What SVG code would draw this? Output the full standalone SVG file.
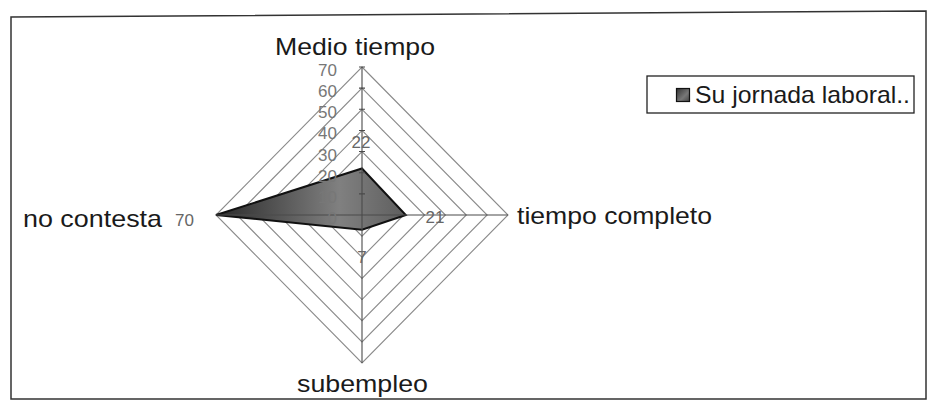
<svg xmlns="http://www.w3.org/2000/svg" width="928" height="400" viewBox="0 0 928 400">
<defs>
<linearGradient id="fillg" x1="0" y1="0" x2="1" y2="0">
<stop offset="0" stop-color="#2a2a2a"/>
<stop offset="0.65" stop-color="#808080"/>
<stop offset="1" stop-color="#5e5e5e"/>
</linearGradient>
<linearGradient id="legg" x1="0" y1="0" x2="1" y2="1">
<stop offset="0" stop-color="#333"/>
<stop offset="0.6" stop-color="#777"/>
<stop offset="1" stop-color="#444"/>
</linearGradient>
<style>
.grid{fill:none;stroke:#8a8a8a;stroke-width:1.1}
.axis{stroke:#4a4a4a;stroke-width:1.1}
.cat{font-family:"Liberation Sans",Arial,sans-serif;font-size:24px;fill:#1a1a1a}
.num{font-family:"Liberation Sans",Arial,sans-serif;font-size:17px;fill:#666}
.scale{font-family:"Liberation Sans",Arial,sans-serif;font-size:17px;fill:#777;text-anchor:end}
</style>
</defs>
<rect width="928" height="400" fill="#fff"/>
<path d="M11,399 L11,17 L926,11 L926,399 Z" fill="none" stroke="#333" stroke-width="1.5"/>
<g id="grid">
<polygon class="grid" points="362,193.86 382.86,215 362,236.14 341.14,215"/>
<polygon class="grid" points="362,172.71 403.71,215 362,257.29 320.29,215"/>
<polygon class="grid" points="362,151.57 424.57,215 362,278.43 299.43,215"/>
<polygon class="grid" points="362,130.43 445.43,215 362,299.57 278.57,215"/>
<polygon class="grid" points="362,109.29 466.29,215 362,320.71 257.71,215"/>
<polygon class="grid" points="362,88.14 487.14,215 362,341.86 236.86,215"/>
<polygon class="grid" points="362,67 508,215 362,363 216,215"/>
</g>
<g id="series">
<polygon points="362,168.5 405.8,215 362,229.8 216,215" fill="url(#fillg)" stroke="#111" stroke-width="2" stroke-linejoin="miter"/>
</g>
<g id="connectors">
<line class="axis" x1="362" y1="67" x2="362" y2="363"/>
<line class="axis" x1="216" y1="215" x2="508" y2="215"/>
<path class="axis" d="M359,193.86h6M359,172.71h6M359,151.57h6M359,130.43h6M359,109.29h6M359,88.14h6M359,67h6"/>
</g>
<g id="scale">
<text class="scale" x="337" y="224">0</text>
<text class="scale" x="337" y="203">10</text>
<text class="scale" x="337" y="181.7">20</text>
<text class="scale" x="337" y="160.6">30</text>
<text class="scale" x="337" y="139.4">40</text>
<text class="scale" x="337" y="118.3">50</text>
<text class="scale" x="337" y="97.1">60</text>
<text class="scale" x="337" y="76">70</text>
</g>
<g id="node-medio">
<text class="cat" x="275" y="55" textLength="160" lengthAdjust="spacingAndGlyphs">Medio tiempo</text>
<text class="num" x="361" y="148" text-anchor="middle">22</text>
</g>
<g id="node-completo">
<text class="cat" x="517" y="224" textLength="195" lengthAdjust="spacingAndGlyphs">tiempo completo</text>
<text class="num" x="435" y="223" text-anchor="middle">21</text>
</g>
<g id="node-subempleo">
<text class="cat" x="297" y="392" textLength="131" lengthAdjust="spacingAndGlyphs">subempleo</text>
<text class="num" x="362" y="263" text-anchor="middle">7</text>
</g>
<g id="node-nocontesta">
<text class="cat" x="23" y="227" textLength="139" lengthAdjust="spacingAndGlyphs">no contesta</text>
<text class="num" x="175" y="226">70</text>
</g>
<g id="legend">
<rect x="647" y="76" width="267" height="37" fill="#fff" stroke="#222" stroke-width="1.3"/>
<rect x="676.5" y="88.5" width="13" height="13" fill="url(#legg)" stroke="#111" stroke-width="1.2"/>
<text class="cat" x="695" y="103" textLength="215" lengthAdjust="spacingAndGlyphs">Su jornada laboral..</text>
</g>
</svg>
